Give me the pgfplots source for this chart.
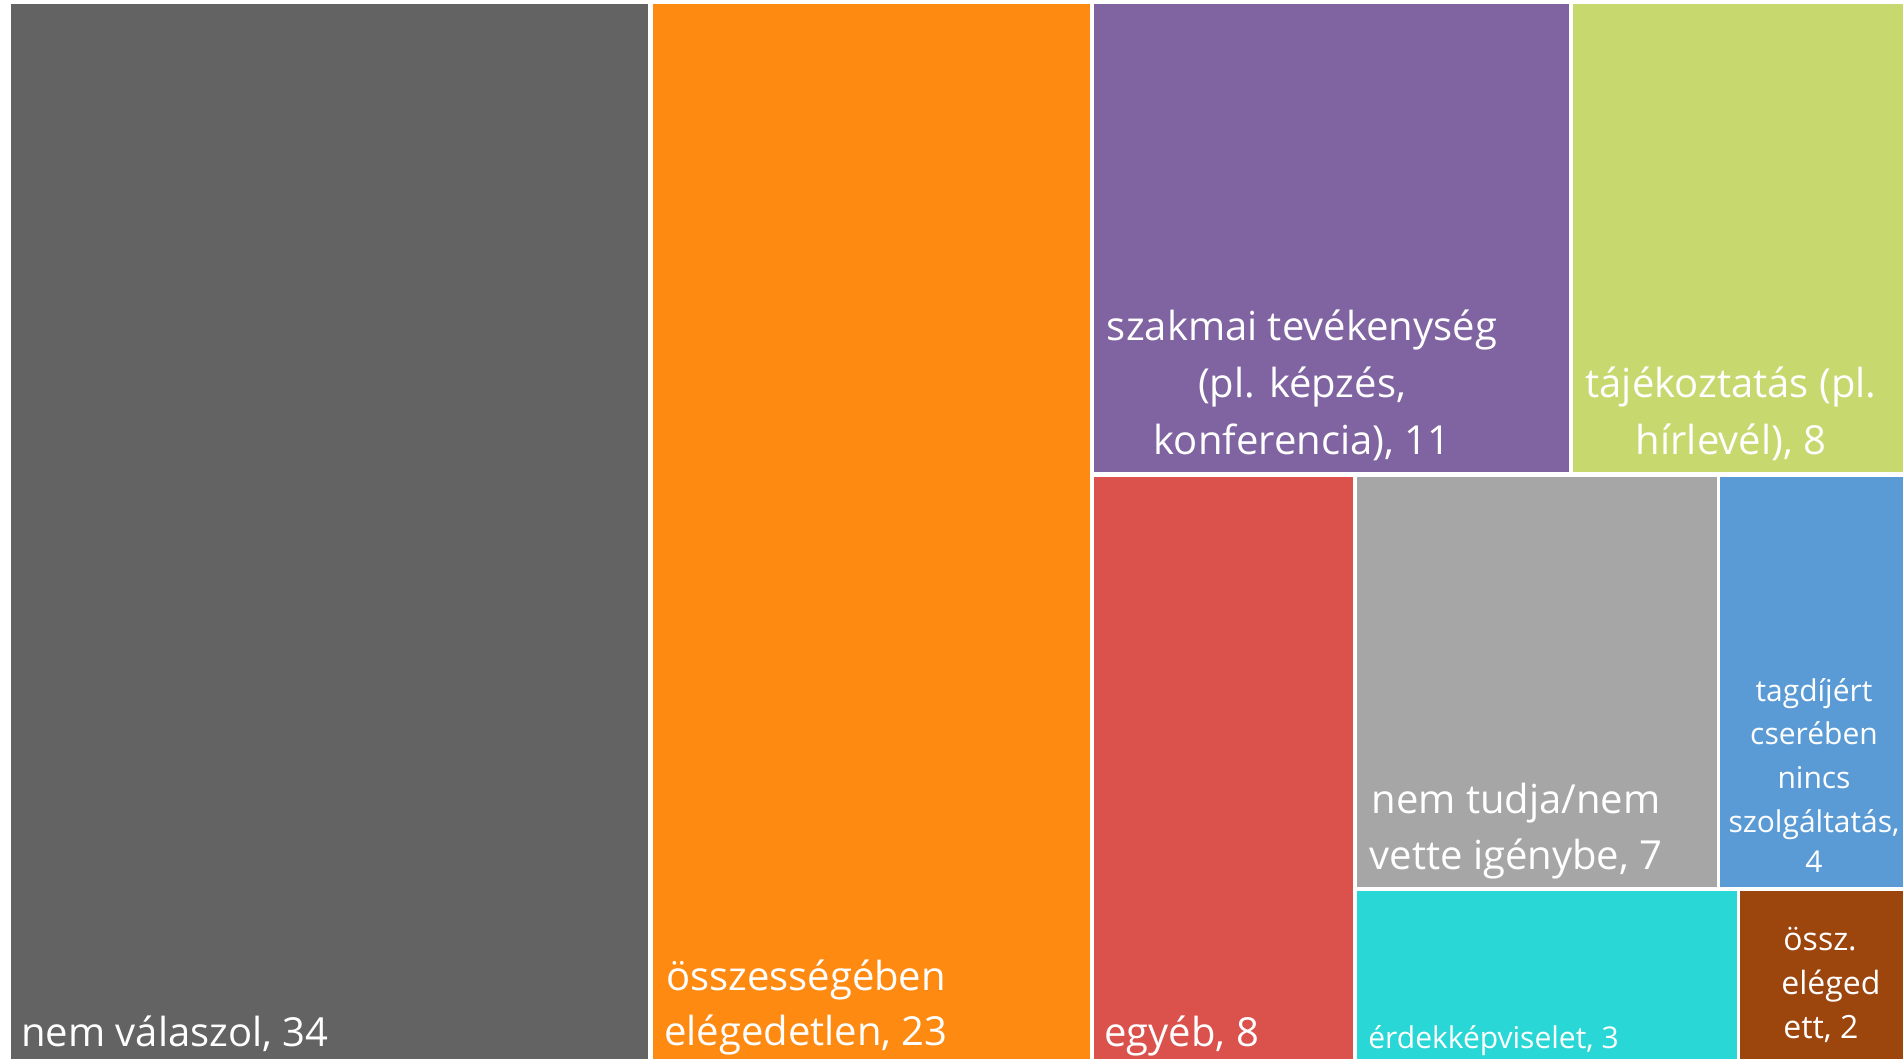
\documentclass[border=0pt]{standalone}
\usepackage{pgfplots}
\pgfplotsset{compat=1.18}
\usepackage{fontspec}
\setmainfont{Open Sans}
\definecolor{cDark}{HTML}{636363}
\definecolor{cOrange}{HTML}{FF8A12}
\definecolor{cPurple}{HTML}{8064A2}
\definecolor{cGreen}{HTML}{C7D86F}
\definecolor{cRed}{HTML}{DB514C}
\definecolor{cLGray}{HTML}{A6A6A6}
\definecolor{cBlue}{HTML}{5B9BD5}
\definecolor{cCyan}{HTML}{29D8D6}
\definecolor{cBrown}{HTML}{9C460E}
\tikzset{
  big/.style={text=white, inner sep=0pt, font=\fontsize{20}{28}\selectfont},
  small/.style={text=white, inner sep=0pt, font=\fontsize{15}{21}\selectfont},
  mid/.style={text=white, inner sep=0pt, font=\fontsize{16}{22}\selectfont},
}
\newcommand{\rect}[5]{\addplot[fill=#5,draw=none] coordinates {(#1,#2) (#3,#2) (#3,#4) (#1,#4)} -- cycle;}
\begin{document}
\begin{tikzpicture}
\begin{axis}[
  width=951.5pt, height=529.5pt, scale only axis,
  xmin=0, xmax=1903, ymin=0, ymax=1059, y dir=reverse,
  hide axis, clip=false,
]
\rect{0}{0}{1903}{1059}{white}
% treemap tiles (values: 34, 23, 11, 8, 8, 7, 4, 3, 2)
\rect{11}{4}{648}{1059}{cDark}
\rect{653}{4}{1090}{1059}{cOrange}
\rect{1094}{4}{1569}{472}{cPurple}
\rect{1573}{4}{1903}{472}{cGreen}
\rect{1094}{477}{1353}{1059}{cRed}
\rect{1357}{477}{1717}{887}{cLGray}
\rect{1720}{477}{1903}{887}{cBlue}
\rect{1357}{891}{1737}{1059}{cCyan}
\rect{1740}{891}{1903}{1059}{cBrown}
% labels
\node[big, anchor=base west] at (axis cs:21,1046) {nem válaszol, 34};
\node[big, anchor=base] at (axis cs:806,990) {összességében};
\node[big, anchor=base] at (axis cs:806,1045) {elégedetlen, 23};
\node[big, anchor=base] at (axis cs:1302,341) {szakmai tevékenység};
\node[big, anchor=base] at (axis cs:1302,398) {(pl. képzés,};
\node[big, anchor=base] at (axis cs:1302,455) {konferencia), 11};
\node[big, anchor=base] at (axis cs:1731,398) {tájékoztatás (pl.};
\node[big, anchor=base] at (axis cs:1731,455) {hírlevél), 8};
\node[big, anchor=base west] at (axis cs:1104,1046) {egyéb, 8};
\node[big, anchor=base] at (axis cs:1516,813) {nem tudja/nem};
\node[big, anchor=base] at (axis cs:1516,869) {vette igénybe, 7};
\node[small, anchor=base] at (axis cs:1814,701) {tagdíjért};
\node[small, anchor=base] at (axis cs:1814,744) {cserében};
\node[small, anchor=base] at (axis cs:1814,788) {nincs};
\node[small, anchor=base] at (axis cs:1814,832) {szolgáltatás,};
\node[small, anchor=base] at (axis cs:1814,872) {4};
\node[small, anchor=base west] at (axis cs:1368,1048) {érdekképviselet, 3};
\node[mid, anchor=base west] at (axis cs:1783,950) {össz.};
\node[mid, anchor=base west] at (axis cs:1781,994) {eléged};
\node[mid, anchor=base west] at (axis cs:1783,1038) {ett, 2};
\end{axis}
\end{tikzpicture}
\end{document}
